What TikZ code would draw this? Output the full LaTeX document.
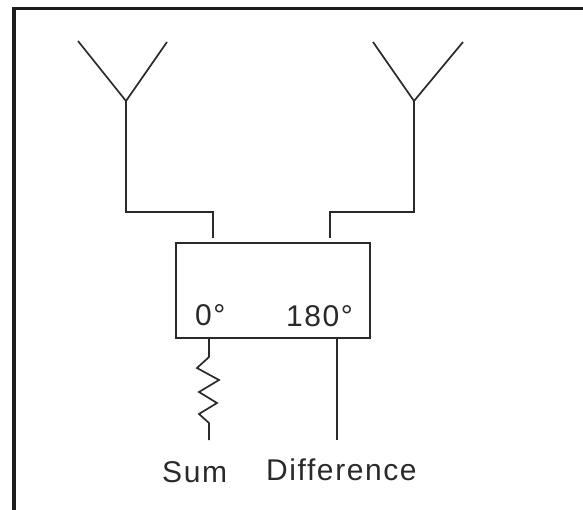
\documentclass[tikz,border=0pt]{standalone}
\usepackage{fontspec}
\setmainfont[LetterSpace=5.3]{Liberation Sans}
\definecolor{ink}{HTML}{2A2A2A}
\definecolor{frameink}{HTML}{1C1C1C}
\tikzset{
  wire/.style={draw=ink,line width=1.7pt,line join=miter},
  framing/.style={draw=frameink,line width=3.2pt},
  hybrid/.style={draw=ink,line width=1.8pt,rectangle,minimum width=194pt,minimum height=95pt,inner sep=0pt},
  lbl/.style={text=ink,font=\fontsize{30}{32}\selectfont,inner sep=0pt,anchor=base west}
}
\begin{document}
\begin{tikzpicture}[x=1pt,y=-1pt]
\useasboundingbox (0,0) rectangle (583,510);
\fill[white] (0,0) rectangle (583,510);
% frame
\coordinate (f1) at (14,510);
\coordinate (f2) at (14,8.7);
\coordinate (f3) at (583,8.7);
\draw[framing] (f1) -- (f2) -- (f3);
% hybrid box
\node[hybrid] (box) at (273,290.5) {};
% left antenna
\coordinate (la1) at (78,41);
\coordinate (la2) at (167,42);
\coordinate (lapex) at (126,101);
\coordinate (lbend1) at (126,212);
\coordinate (lbend2) at (213,212);
\coordinate (lend) at (213,238);
\draw[wire] (la1) -- (lapex) -- (la2);
\draw[wire] (lapex) -- (lbend1) -- (lbend2) -- (lend);
% right antenna
\coordinate (ra1) at (373,42);
\coordinate (ra2) at (463,42);
\coordinate (rapex) at (414,101);
\coordinate (rbend1) at (414,212);
\coordinate (rbend2) at (330,212);
\coordinate (rend) at (330,238);
\draw[wire] (ra1) -- (rapex) -- (ra2);
\draw[wire] (rapex) -- (rbend1) -- (rbend2) -- (rend);
% outputs
\coordinate (sumtop) at (box.south -| 209,0);
\coordinate (sumend) at (209,440);
\draw[wire] (sumtop) -- (209,357) -- (197,368) -- (219,380) -- (199,392) -- (217,403) -- (199,414) -- (209,423) -- (sumend);
\coordinate (difftop) at (box.south -| 337,0);
\coordinate (diffend) at (337,440);
\draw[wire] (difftop) -- (diffend);
% labels
\node[lbl] (zero) at (195,325) {0°};
\node[lbl] (oneeighty) at (286,326) {180°};
\node[lbl] (sum) at (162,482) {Sum};
\node[lbl] (difference) at (266,480) {Difference};
\end{tikzpicture}
\end{document}
